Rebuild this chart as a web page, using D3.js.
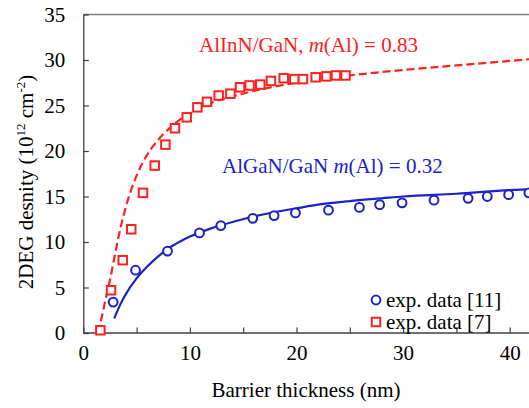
<!DOCTYPE html>
<html>
<head>
<meta charset="utf-8">
<script src="https://cdn.jsdelivr.net/npm/d3@7"></script>
<style>
  html, body { margin: 0; padding: 0; background: #fff; }
  svg { display: block; }
</style>
</head>
<body>
<svg id="chart" width="529" height="408"></svg>
<script>
// ---- data ----
// AlInN/GaN experimental data [7] (red squares)
const alinnX = [1.6, 2.6, 3.7, 4.5, 5.6, 6.7, 7.7, 8.6, 9.7, 10.7, 11.6, 12.7, 13.8, 14.7, 15.6, 16.6, 17.6, 18.8, 19.8, 20.6, 21.8, 22.8, 23.7, 24.6];
const alinnY = [0.3, 4.7, 8.0, 11.4, 15.4, 18.4, 20.7, 22.5, 23.7, 24.8, 25.4, 26.1, 26.3, 27.0, 27.2, 27.3, 27.7, 28.0, 27.9, 27.9, 28.1, 28.2, 28.3, 28.3];
// AlGaN/GaN experimental data [11] (blue circles)
const alganX = [2.8, 4.9, 7.9, 10.9, 12.9, 15.9, 17.9, 19.9, 23.0, 25.9, 27.8, 29.9, 32.9, 36.1, 37.9, 39.9, 41.8];
const alganY = [3.4, 6.9, 9.0, 11.0, 11.8, 12.6, 12.9, 13.2, 13.5, 13.8, 14.1, 14.3, 14.6, 14.8, 15.0, 15.2, 15.4];
// model curve AlInN/GaN (red dashed)
const fitInX = [1.4, 2.0, 2.5, 3.0, 3.5, 4.0, 5.0, 6.0, 7.0, 8.0, 9.0, 10.0, 12.0, 14.0, 16.0, 18.0, 20.0, 25.0, 30.0, 35.0, 40.0, 42.0];
const fitInY = [0.0, 3.2, 5.8, 8.8, 11.6, 13.9, 17.3, 19.6, 21.2, 22.4, 23.4, 24.1, 25.3, 26.0, 26.6, 27.1, 27.5, 28.3, 28.9, 29.4, 29.9, 30.1];
// model curve AlGaN/GaN (blue solid)
const fitGaX = [2.9, 3.5, 4.0, 5.0, 6.0, 7.0, 8.0, 9.0, 10.0, 12.0, 14.0, 16.0, 18.0, 20.0, 22.0, 25.0, 28.0, 30.0, 35.0, 40.0, 42.0];
const fitGaY = [1.6, 3.2, 4.3, 6.0, 7.3, 8.4, 9.3, 10.0, 10.6, 11.5, 12.2, 12.8, 13.3, 13.7, 14.1, 14.5, 14.8, 15.0, 15.3, 15.7, 15.8];

const xTicks = [0, 5, 10, 15, 20, 25, 30, 35, 40];
const xTickLabels = ["0", "", "10", "", "20", "", "30", "", "40"];
const yTicks = [0, 5, 10, 15, 20, 25, 30, 35];
const yTickLabels = ["0", "5", "10", "15", "20", "25", "30", "35"];

const legendLabels = ["exp. data [11]", "exp. data [7]"];

// ---- layout ----
const RED = "#ff2020";
const BLUE = "#1a22c8";
const AXIS = "#404040";
const FS = 21;
const SERIF = "'Liberation Serif', 'Times New Roman', Times, serif";

const svg = d3.select("#chart");
const pLeft = 83.3, pBottom = 333, pTop = 14.5;
const x = d3.scaleLinear().domain([0, 42]).range([pLeft, pLeft + 42 * 10.66]);
const y = d3.scaleLinear().domain([0, 35]).range([pBottom, pTop]);

// top border
svg.append("line")
  .attr("x1", pLeft).attr("x2", 529).attr("y1", pTop).attr("y2", pTop)
  .attr("stroke", "#808080").attr("stroke-width", 1.3);

// axes
const xAxis = d3.axisBottom(x).tickValues(xTicks)
  .tickFormat((d, i) => xTickLabels[i]).tickSizeInner(-5.5).tickSizeOuter(0).tickPadding(12);
const gx = svg.append("g").attr("transform", `translate(0,${pBottom})`).call(xAxis);
gx.select(".domain").attr("stroke", AXIS).attr("stroke-width", 1.3).attr("d", `M${pLeft},0H529`);
gx.selectAll(".tick line").attr("stroke", AXIS).attr("stroke-width", 1.2);
gx.selectAll(".tick text").attr("fill", "#000").attr("dy", "0.71em").attr("y", 12)
  .style("font-family", SERIF).style("font-size", FS + "px");

const yAxis = d3.axisLeft(y).tickValues(yTicks)
  .tickFormat((d, i) => yTickLabels[i]).tickSizeInner(-5.5).tickSizeOuter(0).tickPadding(18);
const gy = svg.append("g").attr("transform", `translate(${pLeft},0)`).call(yAxis);
gy.select(".domain").attr("stroke", AXIS).attr("stroke-width", 1.3);
gy.selectAll(".tick line").attr("stroke", AXIS).attr("stroke-width", 1.2);
gy.selectAll(".tick text").attr("fill", "#000").attr("x", -18)
  .style("font-family", SERIF).style("font-size", FS + "px");

// axis titles
svg.append("text").attr("x", 306).attr("y", 397).attr("text-anchor", "middle")
  .style("font-family", SERIF).style("font-size", FS + "px").attr("fill", "#000")
  .text("Barrier thickness (nm)");

const yt = svg.append("text").attr("transform", "translate(33,182) rotate(-90)")
  .attr("text-anchor", "middle").style("font-family", SERIF).style("font-size", FS + "px")
  .attr("fill", "#000");
yt.append("tspan").text("2DEG desnity (10");
yt.append("tspan").style("font-size", "13px").attr("dy", -8).text("12");
yt.append("tspan").attr("dy", 8).text(" cm");
yt.append("tspan").style("font-size", "13px").attr("dy", -8).text("-2");
yt.append("tspan").attr("dy", 8).text(")");

// clip to plot
svg.append("clipPath").attr("id", "clip").append("rect")
  .attr("x", pLeft).attr("y", pTop - 10).attr("width", 529 - pLeft).attr("height", pBottom - pTop + 10);

const plot = svg.append("g").attr("clip-path", "url(#clip)");

const line = d3.line().x(d => x(d[0])).y(d => y(d[1])).curve(d3.curveMonotoneX);

plot.append("path").datum(d3.zip(fitInX, fitInY))
  .attr("d", line).attr("fill", "none").attr("stroke", RED)
  .attr("stroke-width", 2.2).attr("stroke-dasharray", "8,4");

plot.append("path").datum(d3.zip(fitGaX, fitGaY))
  .attr("d", line).attr("fill", "none").attr("stroke", BLUE)
  .attr("stroke-width", 2.2);

const sq = 8.5;
svg.append("g").selectAll("rect").data(d3.zip(alinnX, alinnY)).join("rect")
  .attr("x", d => x(d[0]) - sq / 2).attr("y", d => y(d[1]) - sq / 2)
  .attr("width", sq).attr("height", sq)
  .attr("fill", "#fff").attr("stroke", RED).attr("stroke-width", 2);

svg.append("g").selectAll("circle").data(d3.zip(alganX, alganY)).join("circle")
  .attr("cx", d => x(d[0])).attr("cy", d => y(d[1])).attr("r", 4.4)
  .attr("fill", "#fff").attr("stroke", BLUE).attr("stroke-width", 2);

// annotations
const t1 = svg.append("text").attr("x", 199).attr("y", 52)
  .style("font-family", SERIF).style("font-size", FS + "px").attr("fill", RED);
t1.append("tspan").text("AlInN/GaN, ");
t1.append("tspan").style("font-style", "italic").text("m");
t1.append("tspan").text("(Al) = 0.83");

const t2 = svg.append("text").attr("x", 222).attr("y", 173)
  .style("font-family", SERIF).style("font-size", FS + "px").attr("fill", BLUE);
t2.append("tspan").text("AlGaN/GaN ");
t2.append("tspan").style("font-style", "italic").text("m");
t2.append("tspan").text("(Al) = 0.32");

// legend
const lg = svg.append("g");
const legY = [300, 322];
lg.append("circle").attr("cx", 376).attr("cy", legY[0]).attr("r", 4.4)
  .attr("fill", "#fff").attr("stroke", BLUE).attr("stroke-width", 2);
lg.append("rect").attr("x", 376 - sq / 2).attr("y", legY[1] - sq / 2).attr("width", sq).attr("height", sq)
  .attr("fill", "#fff").attr("stroke", RED).attr("stroke-width", 2);
legendLabels.forEach((t, i) => {
  lg.append("text").attr("x", 386).attr("y", legY[i] + 6.5)
    .style("font-family", SERIF).style("font-size", FS + "px")
    .attr("fill", "#000").text(t);
});
</script>
</body>
</html>
